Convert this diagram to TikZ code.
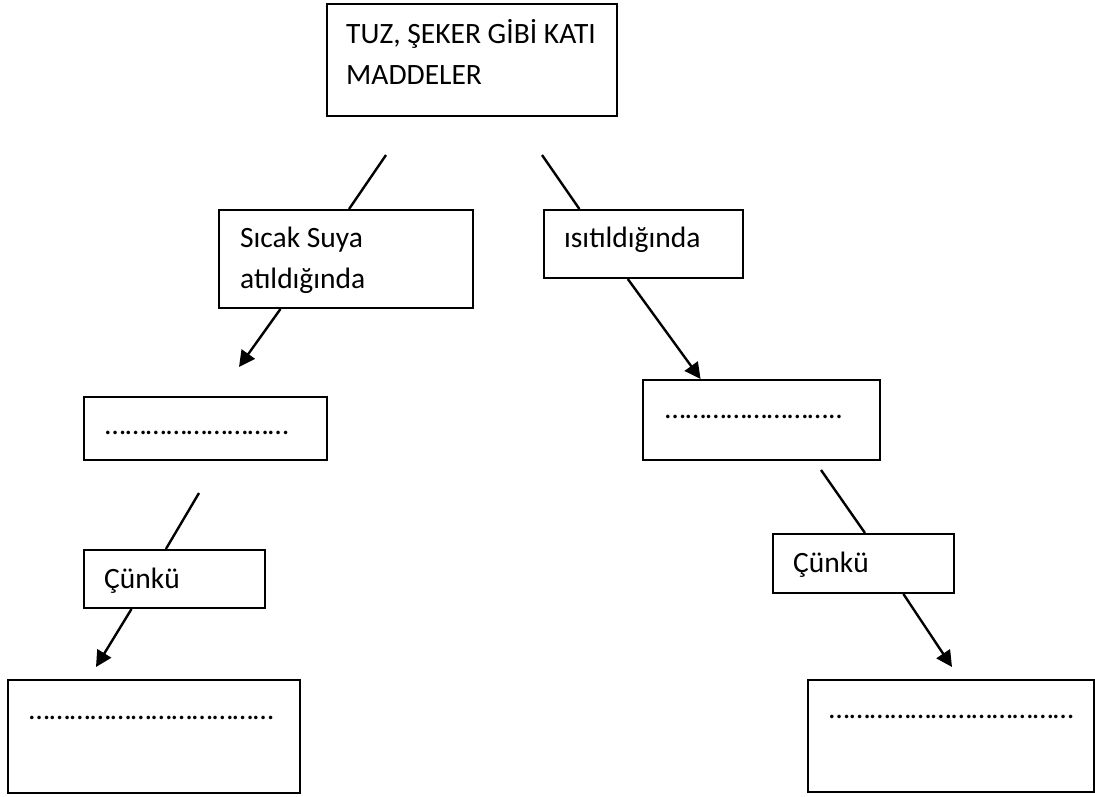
\documentclass[tikz,border=0pt]{standalone}
\usepackage{fontspec}
\setmainfont{Carlito}
\usetikzlibrary{calc,arrows.meta}

\begin{document}
\begin{tikzpicture}[
  x=1pt, y=-1pt,
  box/.style={draw=black, line width=2pt, rectangle, inner sep=0pt, anchor=north west},
  txt/.style={inner sep=0pt, anchor=base west, align=left,
              font=\fontsize{29.5}{41}\selectfont},
  link/.style={draw=black, line width=2.4pt},
  arrowlink/.style={link, -{Triangle[length=16pt,width=16pt]}}
]
\useasboundingbox (0,0) rectangle (1095,796);

% boxes
\node[box, minimum width=290pt, minimum height=112pt] (top)    at (326,3)   {};
\node[box, minimum width=254pt, minimum height=98pt]  (sicak)  at (218,209) {};
\node[box, minimum width=199pt, minimum height=68pt]  (isit)   at (543,209) {};
\node[box, minimum width=243pt, minimum height=63pt]  (dotsL)  at (83,396)  {};
\node[box, minimum width=237pt, minimum height=80pt]  (dotsR)  at (642,379) {};
\node[box, minimum width=181pt, minimum height=58pt]  (cunkuL) at (83,549)  {};
\node[box, minimum width=181pt, minimum height=59pt]  (cunkuR) at (772,533) {};
\node[box, minimum width=292pt, minimum height=113pt] (botL)   at (7,679)   {};
\node[box, minimum width=286pt, minimum height=112pt] (botR)   at (807,679) {};

% texts inside the boxes (base = baseline of the last line)
\node[txt] (topT)    at ($(top.north west)+(20,81)$)    {TUZ, ŞEKER GİBİ KATI\\MADDELER};
\node[txt] (sicakT)  at ($(sicak.north west)+(22,79)$)  {Sıcak Suya\\atıldığında};
\node[txt] (isitT)   at ($(isit.north west)+(21,38)$)   {ısıtıldığında};
\node[txt] (dotsLT)  at ($(dotsL.north west)+(22,38)$)  {………………………};
\node[txt] (dotsRT)  at ($(dotsR.north west)+(23,39)$)  {……………………..};
\node[txt] (cunkuLT) at ($(cunkuL.north west)+(21,39)$) {Çünkü};
\node[txt] (cunkuRT) at ($(cunkuR.north west)+(21,39)$) {Çünkü};
\node[txt] (botLT)   at ($(botL.north west)+(22,40)$)   {………………………………};
\node[txt] (botRT)   at ($(botR.north west)+(22,39)$)   {………………………………};

% free ends of the connectors
\coordinate (s1) at (386,155);
\coordinate (s2) at (542,155);
\coordinate (e3) at (239,367);
\coordinate (s5) at (199,493);
\coordinate (e6) at (96,667);
\coordinate (s7) at (821,470);
\coordinate (e8) at (952,667);

% connectors
\draw[link] (s1) -- ($(sicak.north west)!0.512!(sicak.north east)$);
\draw[link] (s2) -- ($(isit.north west)!0.181!(isit.north east)$);
\draw[arrowlink] ($(sicak.south west)!0.244!(sicak.south east)$) -- (e3);
\draw[arrowlink] ($(isit.south west)!0.422!(isit.south east)$) -- ($(dotsR.north west)!0.245!(dotsR.north east)$);
\draw[link] (s5) -- ($(cunkuL.north west)!0.453!(cunkuL.north east)$);
\draw[arrowlink] ($(cunkuL.south west)!0.265!(cunkuL.south east)$) -- (e6);
\draw[link] (s7) -- ($(cunkuR.north west)!0.508!(cunkuR.north east)$);
\draw[arrowlink] ($(cunkuR.south west)!0.718!(cunkuR.south east)$) -- (e8);
\end{tikzpicture}
\end{document}
